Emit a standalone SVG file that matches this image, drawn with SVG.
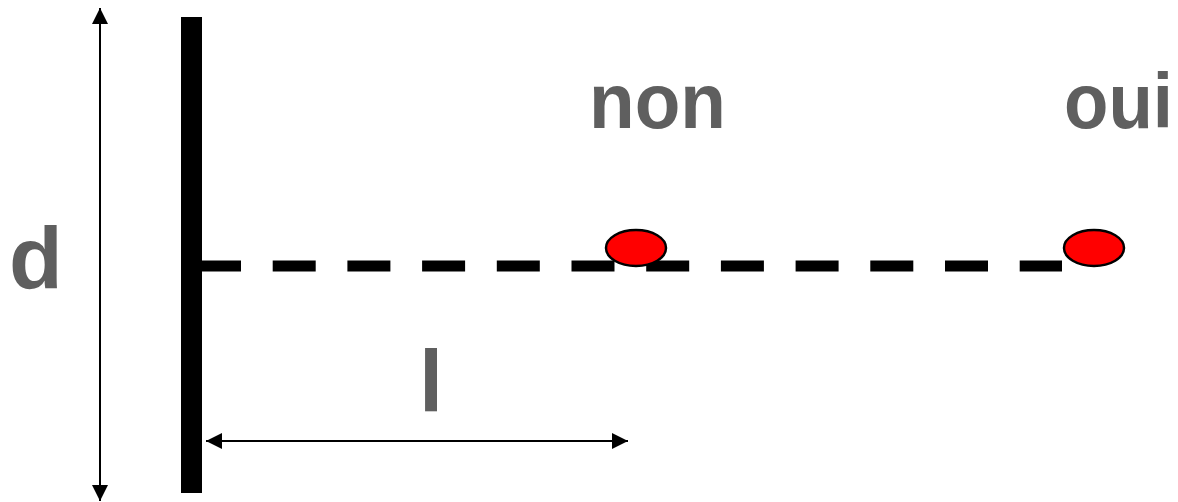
<svg xmlns="http://www.w3.org/2000/svg" width="1178" height="502" viewBox="0 0 1178 502">
  <style>
    .lbl { font-family: "Liberation Sans", Arial, sans-serif; font-weight: bold; fill: #5f5f5f; }
    .dot { fill: #ff0000; stroke: #000000; stroke-width: 2.5; }
    .dim { stroke: #000000; stroke-width: 2; fill: none; }
  </style>
  <defs>
    <marker id="arrow" viewBox="0 0 16 16" refX="16" refY="8" markerWidth="16" markerHeight="16" markerUnits="userSpaceOnUse" orient="auto-start-reverse">
      <path d="M0,0 L16,8 L0,16 z" fill="#000000"/>
    </marker>
  </defs>
  <rect width="1178" height="502" fill="#ffffff"/>

  <g id="wall">
    <rect x="181" y="17" width="21" height="476" fill="#000000"/>
  </g>

  <g id="connectors">
    <line x1="198" y1="266" x2="1062" y2="266" stroke="#000000" stroke-width="11" stroke-dasharray="43 31.7"/>
    <line class="dim" x1="100" y1="8" x2="100" y2="501" marker-start="url(#arrow)" marker-end="url(#arrow)"/>
    <line class="dim" x1="206" y1="441" x2="628" y2="441" marker-start="url(#arrow)" marker-end="url(#arrow)"/>
  </g>

  <g id="node-non">
    <ellipse class="dot" cx="636" cy="248" rx="30" ry="18"/>
    <text class="lbl" x="589" y="128" font-size="78" textLength="137" lengthAdjust="spacingAndGlyphs">non</text>
  </g>

  <g id="node-oui">
    <ellipse class="dot" cx="1094" cy="248" rx="30" ry="18"/>
    <text class="lbl" x="1064" y="128" font-size="78" textLength="109" lengthAdjust="spacingAndGlyphs">oui</text>
  </g>

  <g id="label-d">
    <text class="lbl" x="9" y="288" font-size="88">d</text>
  </g>

  <g id="label-l">
    <text class="lbl" x="419" y="411" font-size="87">l</text>
  </g>
</svg>
